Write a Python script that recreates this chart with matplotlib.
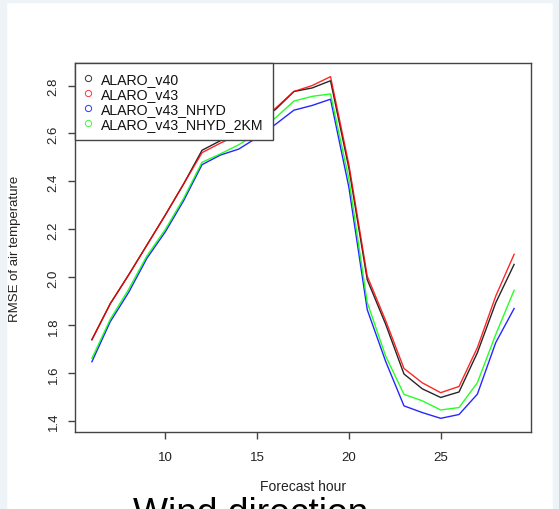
import matplotlib
matplotlib.use('Agg')
import matplotlib.pyplot as plt
from matplotlib.lines import Line2D
from matplotlib.patches import Rectangle

plt.rcParams['font.family'] = ['Liberation Sans', 'DejaVu Sans']

# forecast hours and RMSE values
hours = list(range(6, 30))
alaro_v40 = [1.74, 1.89, 2.01, 2.135, 2.26, 2.39, 2.53, 2.57, 2.60, 2.65, 2.70, 2.775,
             2.79, 2.82, 2.455, 1.99, 1.805, 1.597, 1.535, 1.499, 1.522, 1.686, 1.894, 2.054]
alaro_v43 = [1.74, 1.89, 2.01, 2.135, 2.26, 2.39, 2.52, 2.56, 2.595, 2.645, 2.705, 2.775,
             2.80, 2.837, 2.47, 2.005, 1.82, 1.62, 1.56, 1.519, 1.545, 1.707, 1.922, 2.096]
alaro_v43_nhyd = [1.648, 1.815, 1.937, 2.08, 2.19, 2.32, 2.47, 2.51, 2.535, 2.583, 2.638, 2.697,
                  2.717, 2.743, 2.375, 1.865, 1.65, 1.464, 1.436, 1.412, 1.428, 1.513, 1.728, 1.87]
alaro_v43_nhyd_2km = [1.662, 1.825, 1.95, 2.09, 2.20, 2.33, 2.48, 2.515, 2.553, 2.60, 2.665, 2.735,
                      2.755, 2.765, 2.41, 1.895, 1.672, 1.512, 1.485, 1.447, 1.457, 1.561, 1.762, 1.946]

series_names = ['ALARO_v40', 'ALARO_v43', 'ALARO_v43_NHYD', 'ALARO_v43_NHYD_2KM']
series_colors = ['black', 'red', 'blue', '#00ff00']
series_values = [alaro_v40, alaro_v43, alaro_v43_nhyd, alaro_v43_nhyd_2km]

x_ticks = [10, 15, 20, 25]
y_ticks = [1.4, 1.6, 1.8, 2.0, 2.2, 2.4, 2.6, 2.8]

W, H = 559, 510
fig = plt.figure(figsize=(W / 100, H / 100), dpi=100)
fig.patch.set_facecolor('white')

# light slide background strips at the edges
strip = '#eef3f8'
fig.add_artist(Rectangle((0, 0), 6 / W, 1, transform=fig.transFigure, color=strip, zorder=0))
fig.add_artist(Rectangle((1 - 6 / W, 0), 6 / W, 1, transform=fig.transFigure, color=strip, zorder=0))
fig.add_artist(Rectangle((0, 1 - 3 / H), 1, 3 / H, transform=fig.transFigure, color=strip, zorder=0))

# axes box in pixels: left 75, right 531, top 64, bottom 433
ax = fig.add_axes([75 / W, 1 - 433 / H, 456 / W, 369 / H])

for vals, col in zip(series_values, series_colors):
    ax.plot(hours, vals, color=col, lw=1.0, alpha=0.85)

ax.margins(x=0.04, y=0.04)
ax.set_xticks(x_ticks)
ax.set_xticklabels([str(t) for t in x_ticks])
ax.set_yticks(y_ticks)
ax.set_yticklabels(['%.1f' % t for t in y_ticks], rotation=90, va='center')
ax.tick_params(axis='both', direction='out', length=5, width=1, color='#444444',
               labelsize=9.5, labelcolor='#222222')
ax.tick_params(axis='x', pad=9)
ax.tick_params(axis='y', pad=6)
for sp in ax.spines.values():
    sp.set_color('#444444')
    sp.set_linewidth(1.0)

handles = [Line2D([], [], ls='none', marker='o', markersize=4.5, markerfacecolor='none',
                  markeredgecolor=c, markeredgewidth=0.7, alpha=0.8) for c in series_colors]
leg = ax.legend(handles, series_names, loc='upper left', bbox_to_anchor=(0, 1),
                borderaxespad=0, fontsize=10.2, frameon=True, fancybox=False,
                framealpha=1, edgecolor='#444444', borderpad=0.62, labelspacing=0.07,
                handlelength=0.62, handletextpad=0.62)
leg.get_frame().set_linewidth(1.0)
for t in leg.get_texts():
    t.set_color('#111111')

fig.text(303 / W, 1 - 486.7 / H, 'Forecast hour', ha='center', va='center',
         fontsize=10, color='#222222')
fig.text(15 / W, 1 - 248.5 / H, 'RMSE of air temperature', ha='center', va='center',
         rotation=90, fontsize=9.5, color='#222222')

# slide caption, cut off by the bottom edge as in the reference
fig.text(133 / W, 1 - 524 / H, 'Wind direction', ha='left', va='baseline',
         fontsize=26.7, color='black')

fig.savefig('out.png', dpi=100)
